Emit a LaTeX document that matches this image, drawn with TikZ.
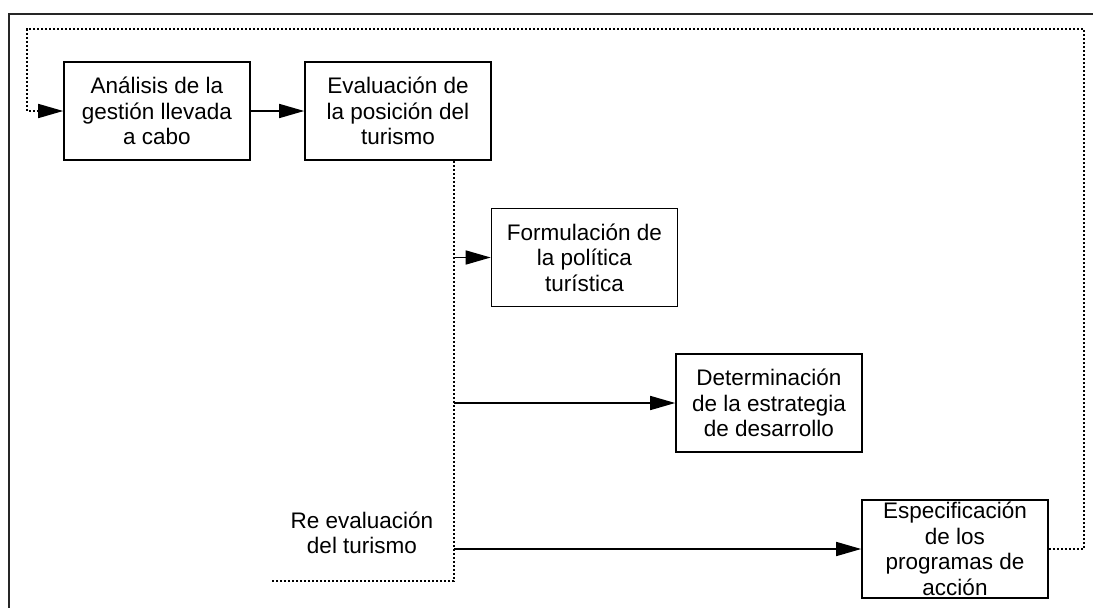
\documentclass[tikz,border=0pt]{standalone}
\usepackage{fontspec}
\setmainfont{Liberation Sans}
\usetikzlibrary{arrows.meta}
\tikzset{
  stepbox/.style={draw=black, line width=1.6pt, minimum width=186pt, minimum height=98pt, align=center, inner sep=2pt,
    font=\fontsize{22.5}{25.5}\selectfont},
  flow/.style={line width=1.6pt, -{Triangle[length=25pt,width=14pt]}},
  dots/.style={line width=1.6pt, dash pattern=on 2pt off 2pt},
  frame/.style={draw=black!85, line width=2.5pt}
}
\begin{document}
\begin{tikzpicture}[x=1pt, y=-1pt]
\useasboundingbox (0,0) rectangle (1093,608);
\draw[frame] (9,612) -- (9,14) -- (1097,14);
\node[stepbox] (a) at (157,111) {Análisis de la\\gestión llevada\\a cabo};
\node[stepbox] (b) at (398,111) {Evaluación de\\la posición del\\turismo};
\node[stepbox] (c) at (584.5,257.5) {Formulación de\\la política\\turística};
\node[stepbox] (d) at (769,403) {Determinación\\de la estrategia\\de desarrollo};
\node[stepbox] (e) at (955,549) {Especificación\\de los\\programas de\\acción};
\node[font=\fontsize{22.5}{25.5}\selectfont, align=center] (r) at (362,533) {Re evaluación\\del turismo};
\coordinate (v0) at (454,160);
\coordinate (v1) at (454,257.5);
\coordinate (v2) at (454,403);
\coordinate (v3) at (454,549);
\coordinate (v4) at (454,581);
\coordinate (v5) at (271,581);
\coordinate (t1) at (1084,549);
\coordinate (t2) at (1084,29);
\coordinate (t3) at (27,29);
\coordinate (t4) at (27,111);
\coordinate (t5) at (39,111);
\draw[flow] (a) -- (b);
\draw[dots] (b.south -| v0) -- (v4) -- (v5);
\draw[flow] (v1) -- (c.west);
\draw[flow] (v2) -- (d.west);
\draw[flow] (v3) -- (e.west);
\draw[dots] (e.east) -- (t1) -- (t2) -- (t3) -- (t4) -- (t5);
\draw[flow] (t5) -- (a.west);
\end{tikzpicture}
\end{document}
